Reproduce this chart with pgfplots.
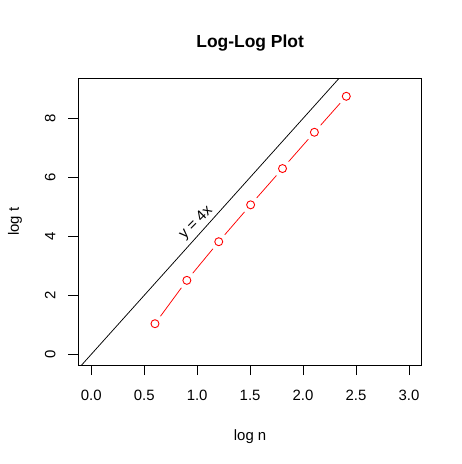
\documentclass[border=0pt]{standalone}
\usepackage{pgfplots}
\pgfplotsset{compat=1.18}
\usepackage{fontspec}
\setmainfont{Liberation Sans}
\begin{document}
\begin{tikzpicture}
\begin{axis}[
  scale only axis, width=343.2bp, height=286.7bp,
  at={(0,0)}, anchor=south west,
  xmin=-0.12, xmax=3.12, ymin=-0.36, ymax=9.36,
  axis line style={line width=0.75bp, black},
  xtick={0,0.5,1,1.5,2,2.5,3},
  xticklabels={0.0,0.5,1.0,1.5,2.0,2.5,3.0},
  ytick={0,2,4,6,8},
  yticklabels={0,2,4,6,8},
  tick pos=left, tick align=outside,
  major tick length=10bp,
  tick style={line width=0.75bp, black},
  tick label style={font=\fontsize{15}{18}\selectfont},
  xticklabel style={anchor=base, yshift=-25.4bp},
  yticklabel style={xshift=-13bp, rotate=90, anchor=base},
  xlabel={log n},
  xlabel style={at={(axis description cs:0.5,0)}, anchor=base, yshift=-75.5bp, font=\fontsize{15}{18}\selectfont},
  ylabel={log t},
  ylabel style={at={([xshift=-59.5bp]axis description cs:0,0.5)}, anchor=base, font=\fontsize{15}{18}\selectfont},
  title={Log-Log Plot},
  title style={at={(axis description cs:0.5,1)}, anchor=base, yshift=25bp, font=\bfseries\fontsize{17.5}{21}\selectfont},
]
\addplot[black, line width=0.75bp, mark=none] coordinates {(-0.2,-0.8) (2.5,10)};
\addplot[red, line width=0.75bp, mark=none] coordinates {
(0.602,1.04) (0.903,2.51) (1.204,3.82) (1.505,5.07) (1.806,6.30) (2.107,7.53) (2.408,8.75)};
\addplot[white, only marks, mark=*, mark size=9bp, mark options={draw=white, fill=white}] coordinates {
(0.602,1.04) (0.903,2.51) (1.204,3.82) (1.505,5.07) (1.806,6.30) (2.107,7.53) (2.408,8.75)};
\addplot[red, only marks, mark=o, mark size=4bp, mark options={draw=red, line width=0.9bp}] coordinates {
(0.602,1.04) (0.903,2.51) (1.204,3.82) (1.505,5.07) (1.806,6.30) (2.107,7.53) (2.408,8.75)};
\node[rotate=45, font=\fontsize{15}{18}\selectfont] at (axis cs:0.99,4.45) {y = 4x};
\end{axis}
\pgfresetboundingbox
\useasboundingbox (-78.5bp,-99bp) rectangle (383.5bp,365bp);
\end{tikzpicture}
\end{document}
